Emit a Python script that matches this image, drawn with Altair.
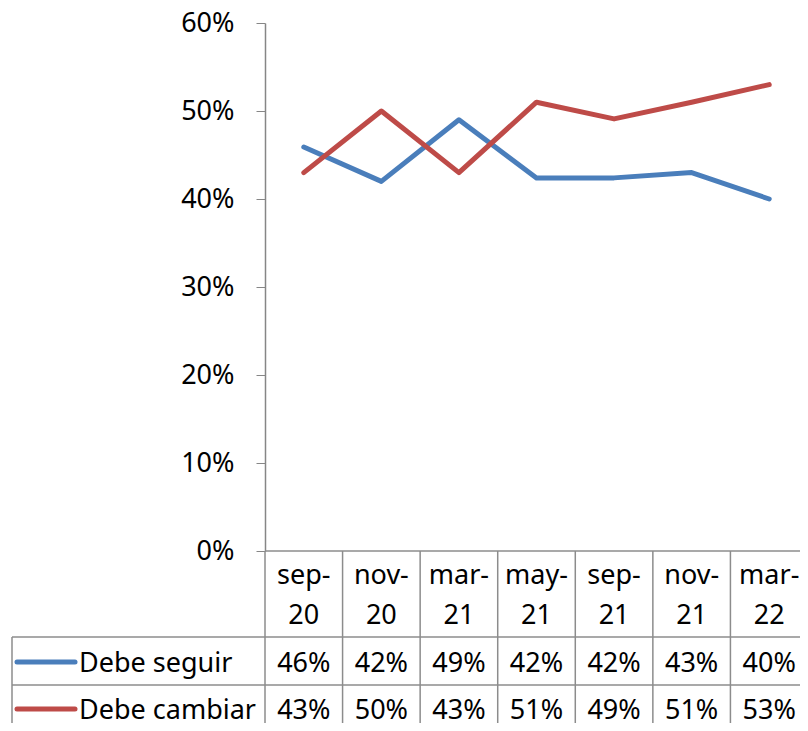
import altair as alt
import pandas as pd

# ---- data ----
months = ["sep", "nov", "mar", "may", "sep", "nov", "mar"]
years = ["20", "20", "21", "21", "21", "21", "22"]
series_names = ["Debe seguir", "Debe cambiar"]
seguir = [45.9, 42.0, 49.0, 42.4, 42.4, 43.0, 40.0]
cambiar = [43.0, 50.0, 43.0, 51.0, 49.1, 51.0, 53.0]
y_ticks = [0, 0.1, 0.2, 0.3, 0.4, 0.5, 0.6]

colors = ["#4A7EBB", "#BE4B48"]
FONT = "Noto Sans"
FS = 27
GRID = "#8c8c8c"

W_FULL = 543          # plot range (extends past the visible page edge)
W_VIS = 535           # visible plot width
H = 528
row_base = [649, 696]     # table row baselines (pixels from plot top)
hdr_base = [561, 601]     # header line baselines

cats = [f"{m}-{y}" for m, y in zip(months, years)]
rows = []
for s, vals in zip(series_names, [seguir, cambiar]):
    for c, v in zip(cats, vals):
        rows.append({"cat": c, "series": s, "v": v / 100})
df = pd.DataFrame(rows)
hdr = pd.DataFrame({"cat": cats, "catb": cats,
                    "m": [m + "-" for m in months], "yr": years})
leg = pd.DataFrame({"series": series_names, "label": series_names})

X = alt.X("cat:O", sort=cats,
          scale=alt.Scale(type="point", padding=0.5, range=[0, W_FULL]), axis=None)
XB = alt.X("catb:O", sort=cats,
           scale=alt.Scale(type="band", paddingInner=0, paddingOuter=0, range=[0, W_FULL]),
           axis=None, bandPosition=0)
COLOR = alt.Color("series:N", scale=alt.Scale(domain=series_names, range=colors), legend=None)

lines = alt.Chart(df).mark_line(strokeWidth=5, strokeCap="round", strokeJoin="round").encode(
    x=X,
    y=alt.Y("v:Q", scale=alt.Scale(domain=[0, 0.6]),
            axis=alt.Axis(values=y_ticks, format=".0%", grid=False, title=None,
                          domainColor="#868686", tickColor="#868686", tickSize=9,
                          labelPadding=22, labelFont=FONT, labelFontSize=FS,
                          labelColor="black", domainWidth=1.5)),
    color=COLOR,
    detail="series:N",
)

# table grid
BOTTOM = 702
vrules = alt.Chart(hdr).mark_rule(color=GRID, strokeWidth=1.5).encode(
    x=XB, y=alt.value(H), y2=alt.value(BOTTOM))
one = pd.DataFrame({"k": [0]})
hrule_axis = alt.Chart(one).mark_rule(color=GRID, strokeWidth=1.5).encode(
    x=alt.value(0), x2=alt.value(W_FULL), y=alt.value(H))
hrule1 = alt.Chart(one).mark_rule(color=GRID, strokeWidth=1.5).encode(
    x=alt.value(-253), x2=alt.value(W_FULL), y=alt.value(614))
hrule2 = alt.Chart(one).mark_rule(color=GRID, strokeWidth=1.5).encode(
    x=alt.value(-253), x2=alt.value(W_FULL), y=alt.value(662))
vleft = alt.Chart(one).mark_rule(color=GRID, strokeWidth=1.5).encode(
    x=alt.value(-253), y=alt.value(614), y2=alt.value(BOTTOM))

# header
hdr_m = alt.Chart(hdr).mark_text(font=FONT, fontSize=FS, baseline="alphabetic").encode(
    x=X, y=alt.value(hdr_base[0]), text="m:N")
hdr_y = alt.Chart(hdr).mark_text(font=FONT, fontSize=FS, baseline="alphabetic").encode(
    x=X, y=alt.value(hdr_base[1]), text="yr:N")

layers = [vrules, hrule_axis, hrule1, hrule2, vleft, lines, hdr_m, hdr_y]
for s, rb in zip(series_names, row_base):
    layers.append(
        alt.Chart(df).transform_filter(alt.datum.series == s)
        .mark_text(font=FONT, fontSize=FS, baseline="alphabetic")
        .encode(x=X, y=alt.value(rb), text=alt.Text("v:Q", format=".0%"))
    )
    layers.append(
        alt.Chart(leg).transform_filter(alt.datum.series == s)
        .mark_rule(strokeWidth=5, strokeCap="round")
        .encode(x=alt.value(-248), x2=alt.value(-190), y=alt.value(rb - 10), color=COLOR)
    )
    layers.append(
        alt.Chart(leg).transform_filter(alt.datum.series == s)
        .mark_text(font=FONT, fontSize=FS, baseline="alphabetic", align="left")
        .encode(x=alt.value(-186), y=alt.value(rb), text="label:N")
    )

chart = alt.layer(*layers).resolve_scale(x="independent").properties(
    width=W_VIS, height=H,
    padding={"left": 257, "top": 15, "right": 0, "bottom": 172},
    autosize="none",
    background="white",
).configure_view(stroke=None)

chart.save("out.html", embed_options={"renderer": "svg", "actions": False})
